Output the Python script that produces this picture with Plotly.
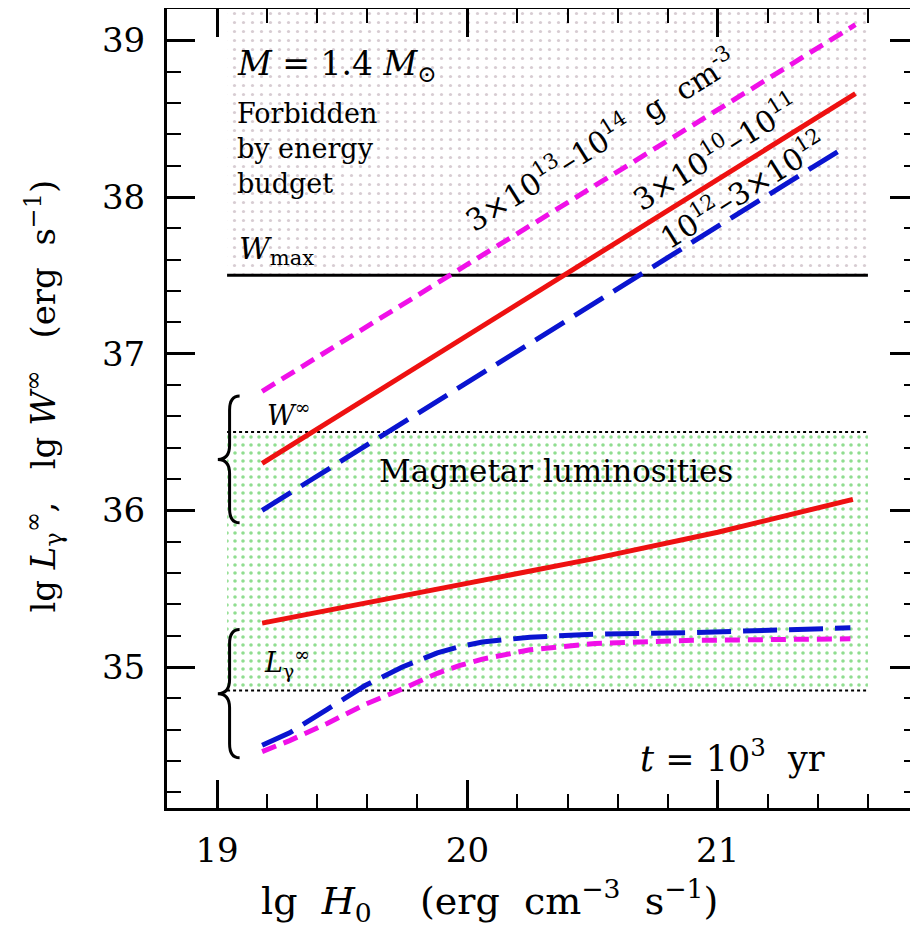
import plotly.graph_objects as go

# ---------------- data ----------------
# upper family: W_inf (straight lines), x = lg H0
x_lin = [19.18, 21.55]
w_magenta = [36.76, 39.10]
w_red = [36.30, 38.66]
x_blue_w = [19.18, 21.51]
w_blue = [36.00, 38.32]

# lower family: L_gamma_inf
x_red_l = [19.18, 19.6, 20.0, 20.5, 21.0, 21.54]
l_red = [35.28, 35.41, 35.53, 35.69, 35.86, 36.07]

x_curve = [19.18, 19.29, 19.44, 19.59, 19.74, 19.88, 19.97, 20.06, 20.25, 20.51, 20.9, 21.53]
l_blue = [34.50, 34.58, 34.73, 34.88, 35.00, 35.09, 35.13, 35.16, 35.19, 35.21, 35.22, 35.25]
l_magenta = [34.46, 34.53, 34.64, 34.76, 34.86, 34.96, 35.01, 35.05, 35.11, 35.15, 35.17, 35.18]

# regions
region_x = [19.04, 21.6]
w_max = 37.5
y_top = 39.2
magnetar_band = [34.85, 36.5]

x_range = [18.8, 21.8]
y_range = [34.1, 39.2]
tick_x = [19, 20, 21]
tick_y = [35, 36, 37, 38, 39]

# ---------------- styles ----------------
MAG = "#f010e8"
RED = "#ee1111"
BLUE = "#0a14d0"
GREEN = "#22bb22"
SERIF = "DejaVu Serif"

fig = go.Figure()

# forbidden region
fig.add_trace(go.Scatter(
    x=[region_x[0], region_x[1], region_x[1], region_x[0], region_x[0]],
    y=[w_max, w_max, y_top, y_top, w_max],
    fill="toself", mode="none", fillcolor="rgba(0,0,0,0)",
    fillpattern=dict(shape=".", fgcolor="#b09aa6", bgcolor="white", size=9, solidity=0.1),
    hoverinfo="skip", showlegend=False))

# magnetar region
fig.add_trace(go.Scatter(
    x=[region_x[0], region_x[1], region_x[1], region_x[0], region_x[0]],
    y=[magnetar_band[0], magnetar_band[0], magnetar_band[1], magnetar_band[1], magnetar_band[0]],
    fill="toself", mode="none", fillcolor="rgba(0,0,0,0)",
    fillpattern=dict(shape=".", fgcolor=GREEN, bgcolor="white", size=8, solidity=0.16),
    hoverinfo="skip", showlegend=False))

# dotted borders of magnetar band
for yb in magnetar_band:
    fig.add_trace(go.Scatter(x=region_x, y=[yb, yb], mode="lines",
                             line=dict(color="black", width=2, dash="dot"),
                             hoverinfo="skip", showlegend=False))

# W_max line
fig.add_trace(go.Scatter(x=region_x, y=[w_max, w_max], mode="lines",
                         line=dict(color="black", width=3),
                         hoverinfo="skip", showlegend=False))

# curves
fig.add_trace(go.Scatter(x=x_lin, y=w_magenta, mode="lines",
                         line=dict(color=MAG, width=5, dash="15px,8px"), showlegend=False))
fig.add_trace(go.Scatter(x=x_lin, y=w_red, mode="lines",
                         line=dict(color=RED, width=5), showlegend=False))
fig.add_trace(go.Scatter(x=x_blue_w, y=w_blue, mode="lines",
                         line=dict(color=BLUE, width=5, dash="34px,12px"), showlegend=False))
fig.add_trace(go.Scatter(x=x_red_l, y=l_red, mode="lines",
                         line=dict(color=RED, width=5), showlegend=False))
fig.add_trace(go.Scatter(x=x_curve, y=l_blue, mode="lines",
                         line=dict(color=BLUE, width=5, dash="34px,12px"), showlegend=False))
fig.add_trace(go.Scatter(x=x_curve, y=l_magenta, mode="lines",
                         line=dict(color=MAG, width=5, dash="15px,8px"), showlegend=False))


# braces (curly, tip pointing left)
def brace(y_top_b, y_bot_b, x_end=19.09, x_spine=19.05, x_tip=19.003):
    ym = (y_top_b + y_bot_b) / 2
    d = 0.09
    return (f"M {x_end},{y_top_b} Q {x_spine},{y_top_b} {x_spine},{y_top_b - d} "
            f"L {x_spine},{ym + d} Q {x_spine},{ym} {x_tip},{ym} "
            f"Q {x_spine},{ym} {x_spine},{ym - d} "
            f"L {x_spine},{y_bot_b + d} Q {x_spine},{y_bot_b} {x_end},{y_bot_b}")


for yt, yb in [(36.73, 35.92), (35.24, 34.42)]:
    fig.add_shape(type="path", path=brace(yt, yb), xref="x", yref="y",
                  line=dict(color="black", width=3))


# annotations
def ann(text, x, y, size, xanchor="left", yanchor="middle", angle=0, xref="x", yref="y"):
    fig.add_annotation(text=text, x=x, y=y, xref=xref, yref=yref, showarrow=False,
                       xanchor=xanchor, yanchor=yanchor, textangle=angle, align="left",
                       font=dict(family=SERIF, size=size, color="black"))


ann("<i>M</i> = 1.4 <i>M</i><sub>⊙</sub>", 19.07, 38.84, 33)
ann("Forbidden<br>by energy<br>budget", 19.07, 38.31, 27)
ann("<i>W</i><sub>max</sub>", 19.08, 37.66, 30)
ann("<i>W</i><sup>∞</sup>", 19.19, 36.62, 27)
ann("<i>L</i><sub>γ</sub><sup>∞</sup>", 19.18, 35.03, 27)
ann("Magnetar luminosities", 19.64, 36.25, 31)
ann("<i>t</i> = 10<sup>3</sup>  yr", 20.68, 34.43, 35)
ann("3×10<sup>13</sup>–10<sup>14</sup>  g  cm<sup>-3</sup>", 20.53, 38.37, 30, xanchor="center", angle=-32)
ann("3×10<sup>10</sup>–10<sup>11</sup>", 20.99, 38.29, 30, xanchor="center", angle=-32)
ann("10<sup>12</sup>–3×10<sup>12</sup>", 21.10, 38.05, 30, xanchor="center", angle=-32)

# axis titles
ann("lg  <i>H</i><sub>0</sub>    (erg  cm<sup>−3</sup>  s<sup>−1</sup>)", 0.43, -0.116, 38,
    xanchor="center", xref="paper", yref="paper")
ann("lg <i>L</i><sub>γ</sub><sup>∞</sup>,   lg <i>W</i><sup>∞</sup>   (erg  s<sup>−1</sup>)",
    -0.165, 0.515, 34, xanchor="center", angle=-90, xref="paper", yref="paper")

axis_common = dict(
    showgrid=False, zeroline=False, showline=True, linecolor="black", linewidth=3,
    mirror="ticks", ticks="inside", ticklen=28, tickwidth=2.5, tickcolor="black",
    tickfont=dict(family=SERIF, size=34, color="black"), automargin=False,
)

fig.update_xaxes(range=x_range, tickvals=tick_x, ticklabelstandoff=10,
                 minor=dict(dtick=0.2, tick0=19, ticks="inside", ticklen=14, tickwidth=2, tickcolor="black"),
                 **axis_common)
fig.update_yaxes(range=y_range, tickvals=tick_y, ticklabelstandoff=12,
                 minor=dict(dtick=0.2, tick0=35, ticks="inside", ticklen=14, tickwidth=2, tickcolor="black"),
                 **axis_common)

# the page body adds an 8 px margin, so the figure is sized/offset to compensate
fig.update_layout(width=910, height=926, margin=dict(l=159, r=0, t=1, b=126),
                  plot_bgcolor="white", paper_bgcolor="white", showlegend=False)

fig.write_html("out.html")
